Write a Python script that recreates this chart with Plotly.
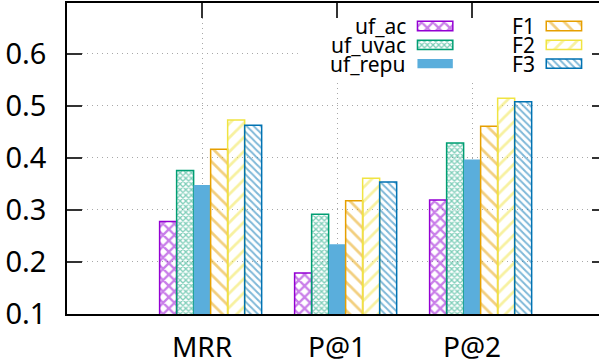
import plotly.graph_objects as go

# ---- data ----
categories = ["MRR", "P@1", "P@2"]
series_names = ["uf_ac", "uf_uvac", "uf_repu", "F1", "F2", "F3"]
uf_ac = [0.278, 0.179, 0.319]
uf_uvac = [0.376, 0.292, 0.429]
uf_repu = [0.348, 0.234, 0.397]
F1 = [0.417, 0.318, 0.461]
F2 = [0.473, 0.361, 0.515]
F3 = [0.463, 0.354, 0.508]
y_tick_values = [0.1, 0.2, 0.3, 0.4, 0.5, 0.6]
y_tick_labels = ["0.1", "0.2", "0.3", "0.4", "0.5", "0.6"]

series_values = [uf_ac, uf_uvac, uf_repu, F1, F2, F3]

# ---- styles ----
FONT = "Noto Sans"
colors = ["#9400d3", "#009e73", "#5aaedc", "#e69f00", "#f0e442", "#0072b2"]
patterns = [
    dict(shape="x", size=8, solidity=0.5),
    dict(shape="x", size=4, solidity=0.55),
    None,
    dict(shape="\\", size=10, solidity=0.28),
    dict(shape="/", size=10, solidity=0.28),
    dict(shape="\\", size=5, solidity=0.4),
]
BAR_W = 0.126
GROUP_START = -0.314
X_RANGE = [0, 3.9407]
Y_RANGE = [0.1, 0.698]
GRID = "#a8a8a8"
x_positions = list(range(1, len(categories) + 1))

fig = go.Figure()


def marker_for(i):
    if patterns[i] is None:
        return dict(color=colors[i], line=dict(color=colors[i], width=0))
    return dict(
        color="rgba(0,0,0,0)",
        line=dict(color=colors[i], width=1.5),
        pattern=dict(fgcolor=colors[i], bgcolor="rgba(0,0,0,0)", fillmode="overlay", **patterns[i]),
    )


for i, (name, vals) in enumerate(zip(series_names, series_values)):
    fig.add_trace(go.Bar(
        x=x_positions, y=vals, name=name,
        width=BAR_W, offset=GROUP_START + i * BAR_W,
        marker=marker_for(i), showlegend=False, hoverinfo="skip",
        xaxis="x", yaxis="y",
    ))

# legend swatches (two columns, drawn in small inset axes)
for i, name in enumerate(series_names):
    col = i // 3
    fig.add_trace(go.Bar(
        x=[1], y=[name], orientation="h", width=0.5,
        marker=marker_for(i), showlegend=False, hoverinfo="skip",
        xaxis="x3" if col == 0 else "x4", yaxis="y3" if col == 0 else "y4",
    ))

# dummy traces so the helper axes (top ticks / right ticks) are drawn
fig.add_trace(go.Scatter(x=[], y=[], xaxis="x2", yaxis="y", showlegend=False, hoverinfo="skip"))
fig.add_trace(go.Scatter(x=[], y=[], xaxis="x", yaxis="y2", showlegend=False, hoverinfo="skip"))

W, H = 599, 364
L, T, B = 67, 3, 50

leg_y_dom = [1 - 82 / H, 1 - 16 / H]
col_x_dom = [[393 / W, 436 / W], [538 / W, 581 / W]]

hidden_cat = dict(type="category", showgrid=False, showline=False, zeroline=False,
                  ticks="", showticklabels=False, autorange=False, range=[2.5, -0.5],
                  automargin=False, categoryorder="array")

fig.update_layout(
    template="none",
    width=W, height=H,
    margin=dict(l=L, r=0, t=T, b=B, pad=0),
    paper_bgcolor="white", plot_bgcolor="white",
    barmode="overlay",
    font=dict(family=FONT, color="black"),
    showlegend=False,
    xaxis=dict(
        range=X_RANGE, tickvals=x_positions, ticktext=categories, automargin=False,
        ticks="", showline=True, mirror=True, linecolor="black", linewidth=1.5,
        showgrid=True, gridcolor=GRID, griddash="1px,4px", gridwidth=1,
        zeroline=False, tickfont=dict(size=28, family=FONT), ticklabelstandoff=8,
    ),
    xaxis2=dict(
        overlaying="x", side="top", anchor="y", range=X_RANGE, tickvals=x_positions,
        ticks="inside", ticklen=15, tickwidth=1.5, tickcolor="#333333", automargin=False,
        showticklabels=False, showgrid=False, showline=False, zeroline=False,
    ),
    yaxis=dict(
        range=Y_RANGE, tickvals=y_tick_values, ticktext=y_tick_labels, automargin=False,
        ticks="inside", ticklen=15, tickwidth=1.5, tickcolor="#333333",
        showline=True, linecolor="black", linewidth=1.5, mirror=False,
        showgrid=True, gridcolor=GRID, griddash="1px,4px", gridwidth=1,
        zeroline=False, tickfont=dict(size=29, family=FONT), ticklabelstandoff=13,
    ),
    yaxis2=dict(
        overlaying="y", side="right", anchor="x", range=Y_RANGE, tickvals=y_tick_values,
        ticks="inside", ticklen=7, tickwidth=1.5, tickcolor="#333333", automargin=False,
        showticklabels=False, showgrid=False, showline=False, zeroline=False,
    ),
    xaxis3=dict(domain=col_x_dom[0], anchor="y3", range=[-0.04, 1.04], visible=False),
    yaxis3=dict(domain=leg_y_dom, anchor="x3", categoryarray=series_names[:3], **hidden_cat),
    xaxis4=dict(domain=col_x_dom[1], anchor="y4", range=[-0.04, 1.04], visible=False),
    yaxis4=dict(domain=leg_y_dom, anchor="x4", categoryarray=series_names[3:], **hidden_cat),
)

# legend texts, right-aligned to the left of each swatch
for i, name in enumerate(series_names):
    col = i // 3
    fig.add_annotation(
        x=col_x_dom[col][0] - 10 / W, xref="paper", xanchor="right",
        y=name, yref="y3" if col == 0 else "y4", yanchor="middle",
        text=name, showarrow=False, borderpad=0,
        font=dict(size=21, family=FONT, color="black"),
    )

# opaque key box hiding the grid behind the legend
fig.add_shape(type="rect", xref="x", yref="y", x0=1.71, x1=3.875, y0=0.544, y1=0.669,
              fillcolor="white", line=dict(width=0), layer="between")

fig.write_html("out.html", post_script="document.body.style.margin='0';",
               config={"displayModeBar": False})
